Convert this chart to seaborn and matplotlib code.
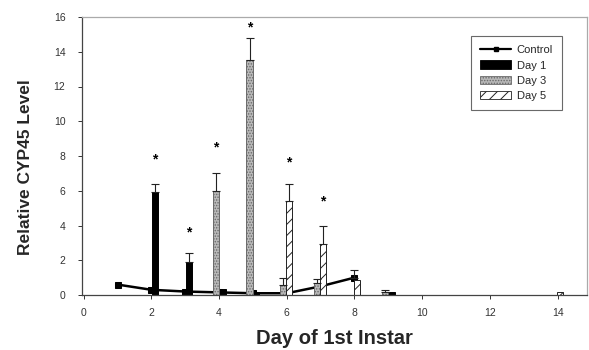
import matplotlib
matplotlib.use("Agg")
import matplotlib.pyplot as plt
import seaborn as sns
import numpy as np
import pandas as pd
from matplotlib.lines import Line2D
from matplotlib.patches import Patch

# ---- data ----
control_days = [1, 2, 3, 4, 5, 6, 7, 8]
control_vals = [0.6, 0.3, 0.2, 0.15, 0.1, 0.1, 0.5, 1.0]
control_err = [0, 0, 0, 0, 0, 0, 0, 0.45]

day1_days = [2, 3, 4, 5, 9]
day1_vals = [5.9, 1.9, 0.35, 0.2, 0.2]
day1_err = [0.5, 0.5, 0, 0, 0]

day3_days = [4, 5, 6, 7, 9]
day3_vals = [6.0, 13.5, 0.6, 0.7, 0.2]
day3_err = [1.0, 1.3, 0.35, 0.2, 0.1]

day5_days = [6, 7, 8, 14]
day5_vals = [5.4, 2.95, 0.85, 0.2]
day5_err = [1.0, 1.0, 0, 0]

star_days = [2, 3, 4, 5, 6, 7]
star_series = ["Day 1", "Day 1", "Day 3", "Day 3", "Day 5", "Day 5"]
star_heights = [7.8, 3.6, 8.5, 15.4, 7.6, 5.4]

x_ticks = [0, 2, 4, 6, 8, 10, 12, 14]
y_ticks = [0, 2, 4, 6, 8, 10, 12, 14, 16]
x_label = "Day of 1st Instar"
y_label = "Relative CYP45 Level"

# ---- style ----
sns.set_style("ticks")
plt.rcParams["font.family"] = ["Liberation Sans", "DejaVu Sans"]
plt.rcParams["hatch.linewidth"] = 0.7

fig = plt.figure(figsize=(5.89, 3.5), dpi=100)
ax = fig.add_axes([82 / 589, 1 - 295 / 350, 505 / 589, 278 / 350])

# control line (behind bars)
sns.lineplot(x=control_days, y=control_vals, color="black", marker="s",
             markersize=5, markeredgecolor="black", linewidth=1.8,
             ax=ax, zorder=1, legend=False)

offsets = {"Day 1": 0.1, "Day 3": -0.1, "Day 5": 0.07}
styles = {
    "Day 1": dict(color="black", edgecolor="black", hatch=None),
    "Day 3": dict(color="#b9b9b9", edgecolor="#6a6a6a", hatch="......"),
    "Day 5": dict(color="white", edgecolor="#222222", hatch="///"),
}
series = [("Day 1", day1_days, day1_vals, day1_err),
          ("Day 3", day3_days, day3_vals, day3_err),
          ("Day 5", day5_days, day5_vals, day5_err)]

for name, days, vals, errs in series:
    xs = np.array(days, dtype=float) + offsets[name]
    df = pd.DataFrame({"x": xs, "y": vals})
    st = styles[name]
    sns.barplot(data=df, x="x", y="y", native_scale=True, width=0.18,
                color=st["color"], edgecolor=st["edgecolor"],
                hatch=st["hatch"], linewidth=0.7, saturation=1,
                errorbar=None, ax=ax, zorder=2)
    errs = np.array(errs, dtype=float)
    m = errs > 0
    ax.errorbar(xs[m], np.array(vals)[m], yerr=[np.zeros(m.sum()), errs[m]],
                fmt="none", ecolor="#222222", elinewidth=0.8, capsize=3,
                capthick=0.8, zorder=3)

cm = np.array(control_err) > 0
ax.errorbar(np.array(control_days)[cm], np.array(control_vals)[cm],
            yerr=[np.zeros(cm.sum()), np.array(control_err)[cm]],
            fmt="none", ecolor="#222222", elinewidth=0.8, capsize=3,
            capthick=0.8, zorder=3)

for d, s, h in zip(star_days, star_series, star_heights):
    ax.text(d + offsets[s], h, "*", ha="center", va="center",
            fontsize=10, fontweight="bold", color="black")

ax.set_xlim(-0.05, 14.87)
ax.set_ylim(0, 16)
ax.set_xticks(x_ticks)
ax.set_yticks(y_ticks)
ax.set_xticklabels([str(t) for t in x_ticks])
ax.set_yticklabels([str(t) for t in y_ticks])
ax.tick_params(axis="both", labelsize=7.5, colors="#333333", length=3,
               width=0.7, direction="out")
ax.tick_params(axis="y", pad=9)
ax.tick_params(axis="x", pad=6)

for side in ["left", "bottom"]:
    ax.spines[side].set_color("#444444")
    ax.spines[side].set_linewidth(0.9)
for side in ["top", "right"]:
    ax.spines[side].set_visible(True)
    ax.spines[side].set_color("#aaaaaa")
    ax.spines[side].set_linewidth(0.9)

ax.set_xlabel(x_label, fontsize=14.5, fontweight="bold", labelpad=8)
ax.set_ylabel(y_label, fontsize=12.5, fontweight="bold")
ax.yaxis.set_label_coords(-0.098, 0.46)

handles = [
    Line2D([0], [0], color="black", marker="s", markersize=3.5, linewidth=1.6),
    Patch(facecolor="black", edgecolor="black", linewidth=0.6),
    Patch(facecolor="#b9b9b9", edgecolor="#6a6a6a", hatch="......", linewidth=0.6),
    Patch(facecolor="white", edgecolor="#222222", hatch="///", linewidth=0.6),
]
leg = ax.legend(handles, ["Control", "Day 1", "Day 3", "Day 5"],
                loc="upper right", bbox_to_anchor=(0.95, 0.93),
                fontsize=8, frameon=True, fancybox=False,
                handlelength=2.8, handleheight=0.8, labelspacing=0.45,
                borderpad=0.8, handletextpad=0.5, borderaxespad=0)
leg.get_frame().set_edgecolor("#444444")
leg.get_frame().set_linewidth(0.8)

fig.savefig("out.png", dpi=100)
